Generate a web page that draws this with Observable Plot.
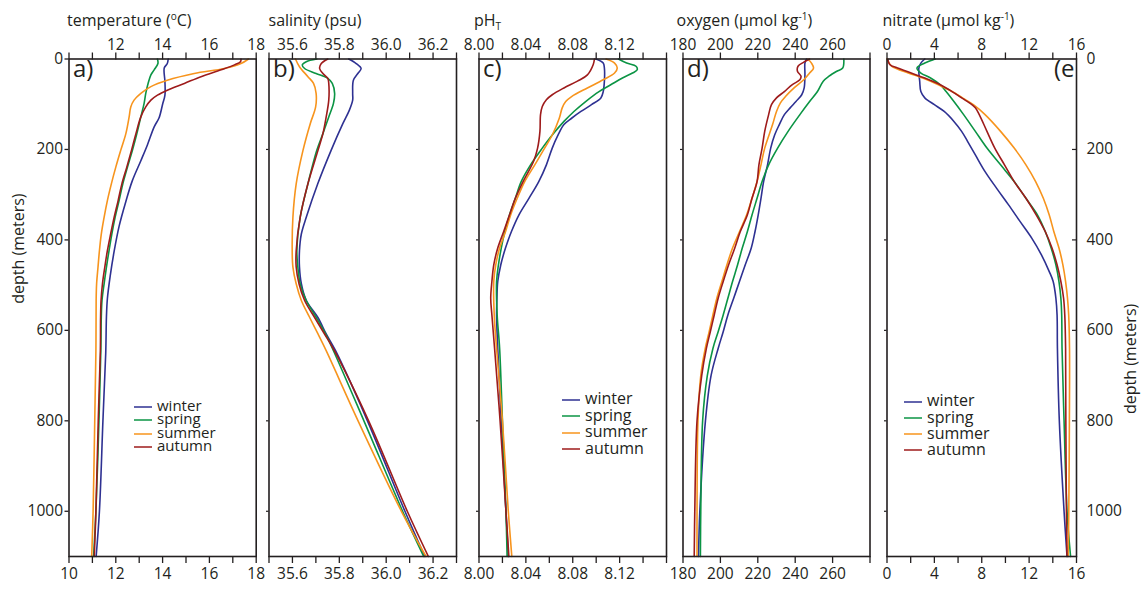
<!DOCTYPE html>
<html><head><meta charset="utf-8">
<script src="https://cdn.jsdelivr.net/npm/d3@7"></script>
<script src="https://cdn.jsdelivr.net/npm/@observablehq/plot@0.6"></script>
<style>
body{margin:0;background:#fff;}
#wrap{position:relative;width:1143px;height:590px;font-family:"Open Sans",sans-serif;color:#231f20;overflow:hidden;}
#wrap > svg{position:absolute;left:0;top:0;overflow:visible;background:transparent;}
.title{position:absolute;font-size:16px;line-height:16px;white-space:nowrap;}
.title sup{font-size:10px;vertical-align:6px;line-height:0;}
.title sub{font-size:10px;vertical-align:-4px;line-height:0;}
.legend{position:absolute;white-space:nowrap;}
.legend .row{position:absolute;left:0;height:0;}
.legend .sw{position:absolute;left:0;top:-2px;}
.legend .tx{position:absolute;left:23px;}
</style></head>
<body><div id="wrap"></div>
<script>
const seasons = ["winter", "spring", "summer", "autumn"];
const seasonColors = ["#2e3192", "#0b9444", "#f7941d", "#9e1b1b"];
const depthTicks = [0, 200, 400, 600, 800, 1000];

// temperature (°C): [depth m, value]
const tempWinter = [[0,14.24],[10,14.2],[20,14.07],[50,14.1],[80,14.1],[100,14.0],[130,13.85],[150,13.64],[190,13.35],[225,13.07],[270,12.7],[315,12.43],[370,12.14],[425,11.93],[480,11.76],[530,11.64],[570,11.6],[650,11.57],[800,11.45],[1000,11.3],[1100,11.16]];
const tempSpring = [[0,13.78],[10,13.8],[24,13.64],[35,13.5],[54,13.38],[76,13.28],[98,13.21],[128,13.07],[165,12.9],[202,12.71],[239,12.5],[276,12.3],[313,12.14],[350,11.97],[387,11.83],[424,11.71],[460,11.6],[497,11.5],[534,11.41],[571,11.38],[645,11.36],[800,11.28],[1000,11.15],[1100,11.05]];
const tempSummer = [[0,17.67],[10,17.35],[21,16.64],[32,15.35],[47,14.2],[61,13.5],[76,13.07],[91,12.78],[106,12.64],[128,12.57],[165,12.43],[202,12.21],[239,12.0],[276,11.81],[313,11.64],[350,11.5],[387,11.38],[424,11.3],[460,11.24],[497,11.18],[534,11.16],[645,11.15],[800,11.1],[1000,11.03],[1100,10.97]];
const tempAutumn = [[0,17.35],[6,17.33],[13,17.07],[24,16.5],[39,15.64],[54,14.93],[69,14.2],[80,13.78],[91,13.5],[106,13.28],[128,13.07],[165,12.86],[202,12.67],[239,12.47],[276,12.26],[313,12.1],[350,11.93],[387,11.78],[424,11.64],[460,11.53],[497,11.43],[534,11.37],[571,11.35],[645,11.34],[800,11.25],[1000,11.15],[1100,11.08]];

// salinity (psu)
const salWinter = [[0,35.84],[10,35.872],[21,35.893],[32,35.879],[47,35.86],[76,35.857],[91,35.857],[113,35.843],[143,35.815],[202,35.765],[276,35.708],[350,35.659],[387,35.638],[424,35.63],[460,35.63],[497,35.638],[534,35.659],[571,35.708],[608,35.744],[645,35.784],[800,35.92],[1000,36.08],[1100,36.165]];
const salSpring = [[0,35.704],[6,35.659],[13,35.642],[21,35.652],[32,35.701],[43,35.751],[54,35.77],[76,35.78],[98,35.775],[128,35.755],[165,35.73],[202,35.704],[276,35.666],[350,35.633],[424,35.619],[460,35.623],[497,35.633],[534,35.659],[571,35.701],[608,35.741],[645,35.775],[800,35.905],[1000,36.07],[1100,36.16]];
const salSummer = [[0,35.613],[17,35.63],[39,35.666],[54,35.69],[76,35.701],[106,35.699],[143,35.676],[202,35.645],[276,35.616],[350,35.602],[424,35.599],[460,35.602],[497,35.616],[534,35.638],[571,35.673],[608,35.709],[645,35.744],[800,35.88],[1000,36.065],[1100,36.17]];
const salAutumn = [[0,35.751],[10,35.723],[21,35.716],[32,35.73],[43,35.751],[54,35.755],[91,35.755],[128,35.744],[165,35.73],[202,35.709],[276,35.666],[350,35.633],[424,35.616],[460,35.616],[497,35.628],[534,35.652],[571,35.694],[608,35.737],[645,35.779],[800,35.925],[1000,36.09],[1100,36.18]];

// pH (total scale)
const phWinter = [[0,8.0998],[9,8.106],[20,8.107],[49,8.107],[72,8.106],[86,8.104],[101,8.096],[116,8.087],[131,8.079],[145,8.0725],[168,8.0675],[197,8.0625],[234,8.0575],[271,8.051],[308,8.0426],[345,8.034],[382,8.0276],[418,8.0226],[455,8.0186],[492,8.016],[529,8.0153],[566,8.015],[640,8.016],[800,8.019],[1000,8.023],[1100,8.025]];
const phSpring = [[0,8.119],[9,8.126],[16,8.134],[24,8.135],[31,8.131],[42,8.1224],[57,8.1124],[72,8.1024],[94,8.091],[116,8.081],[138,8.0725],[168,8.0625],[197,8.054],[234,8.044],[271,8.036],[308,8.031],[345,8.026],[382,8.022],[418,8.019],[455,8.0166],[492,8.015],[566,8.0155],[640,8.0176],[800,8.02],[1000,8.023],[1100,8.024]];
const phSummer = [[0,8.1084],[9,8.1157],[20,8.118],[31,8.1157],[46,8.106],[64,8.0925],[83,8.079],[94,8.074],[108,8.071],[131,8.0685],[168,8.0625],[197,8.056],[234,8.0476],[271,8.039],[308,8.0326],[345,8.027],[382,8.0226],[418,8.0176],[455,8.0143],[492,8.0126],[566,8.013],[640,8.015],[800,8.02],[1000,8.025],[1100,8.028]];
const phAutumn = [[0,8.0985],[12,8.0975],[35,8.0925],[49,8.084],[64,8.0725],[79,8.0625],[90,8.0575],[105,8.054],[123,8.0525],[160,8.052],[197,8.05],[226,8.0466],[271,8.0376],[308,8.031],[345,8.026],[382,8.021],[418,8.016],[455,8.0126],[492,8.011],[529,8.01],[566,8.011],[640,8.0133],[800,8.018],[1000,8.023],[1100,8.0255]];

// oxygen (µmol/kg)
const oxyWinter = [[0,246],[9,245.2],[35,245.2],[64,244.8],[79,243.5],[94,240.4],[108,237.3],[123,234.2],[145,231.5],[168,229],[197,226.9],[234,225.2],[271,223.1],[308,221.7],[345,220.2],[382,218.5],[418,216.5],[455,213.3],[492,210.2],[529,207.1],[566,204],[603,201.5],[640,198.8],[700,195],[800,192],[1000,189],[1100,188.3]];
const oxySpring = [[0,266],[20,265.4],[27,262.3],[38,258.1],[49,255],[72,251.9],[94,247.7],[123,242.5],[160,236.2],[197,230.6],[234,225.8],[271,222.3],[308,219.6],[345,216.9],[382,214.4],[418,211.7],[455,209.2],[492,206.5],[529,204],[566,201.5],[603,198.8],[640,196],[700,193],[800,190.5],[1000,189.5],[1100,189.3]];
const oxySummer = [[0,246.7],[9,248.7],[20,249.8],[31,247.7],[46,244.6],[64,239.4],[83,234.8],[97,232.1],[116,230],[145,227.9],[197,223.7],[234,221.7],[271,219.6],[308,216.9],[345,214],[382,210.2],[418,206.5],[455,203.5],[492,200.8],[529,198.1],[566,196],[603,194],[640,191.9],[700,189.5],[800,188],[1000,187.5],[1100,187.5]];
const oxyAutumn = [[0,247.7],[7,244.6],[16,241.5],[27,241.2],[38,243.1],[46,242.5],[57,238.3],[72,234.2],[86,230],[101,227.3],[123,225.8],[160,223.7],[197,222.3],[234,220.6],[271,219.6],[308,216.9],[345,214.4],[382,210.6],[418,207.7],[455,204.4],[492,201.5],[529,198.8],[566,196.7],[603,194.6],[640,192.5],[700,190],[800,187.5],[1000,186.3],[1100,186]];

// nitrate (µmol/kg)
const no3Winter = [[0,3.19],[9,2.86],[20,2.69],[49,2.76],[72,2.86],[86,3.19],[101,4.0],[116,4.83],[138,5.65],[160,6.3],[182,6.8],[212,7.46],[249,8.28],[286,9.26],[322,10.25],[359,11.23],[396,12.22],[433,13.04],[470,13.7],[492,14.03],[529,14.26],[566,14.36],[640,14.39],[800,14.55],[1000,14.95],[1100,15.2]];
const no3Spring = [[0,4.07],[9,3.19],[20,2.53],[31,2.86],[42,3.68],[57,4.5],[72,4.99],[94,5.65],[123,6.47],[160,7.46],[197,8.44],[234,9.59],[271,10.74],[308,11.73],[345,12.71],[382,13.37],[418,13.86],[455,14.26],[492,14.52],[529,14.68],[566,14.75],[640,14.78],[800,14.95],[1000,15.2],[1100,15.5]];
const no3Summer = [[0,0],[16,0.39],[27,1.38],[42,3.02],[57,4.34],[72,5.49],[86,6.37],[101,7.29],[123,8.28],[160,9.59],[197,10.74],[234,11.73],[271,12.55],[308,13.2],[345,13.7],[382,14.09],[418,14.52],[455,14.85],[492,15.08],[529,15.24],[566,15.34],[640,15.41],[800,15.4],[1000,15.35],[1100,15.3]];
const no3Autumn = [[0,0.07],[12,0.23],[20,0.89],[31,2.04],[42,3.19],[57,4.5],[72,5.49],[86,6.3],[97,6.96],[108,7.46],[123,7.79],[160,8.44],[197,9.1],[234,9.92],[271,10.74],[308,11.73],[345,12.61],[382,13.37],[418,13.93],[455,14.36],[492,14.68],[529,14.91],[566,15.01],[640,15.08],[800,15.1],[1000,15.15],[1100,15.2]];

// axis ticks & labels
const tempTicks = [10,11,12,13,14,15,16,17,18], tempTop = [12,14,16,18], tempBottom = [10,12,14,16,18];
const salTicks = [35.5,35.6,35.7,35.8,35.9,36.0,36.1,36.2,36.3], salTop = [35.6,35.8,36.0,36.2], salBottom = [35.6,35.8,36.0,36.2];
const phTicks = [8.00,8.02,8.04,8.06,8.08,8.10,8.12,8.14,8.16], phTop = [8.00,8.04,8.08,8.12], phBottom = [8.00,8.04,8.08,8.12];
const oxyTicks = [180,200,220,240,260,280], oxyTop = [180,200,220,240,260], oxyBottom = [180,200,220,240,260];
const no3Ticks = [0,2,4,6,8,10,12,14,16], no3Top = [0,4,8,12,16], no3Bottom = [0,4,8,12,16];

const W = 1143, H = 590, TOP = 58.5, BOTTOM = 556;
const panels = [
  {letter:"a)", series:[tempWinter,tempSpring,tempSummer,tempAutumn], domain:[10,18], ticks:tempTicks, top:tempTop, bottom:tempBottom, dec:0, x0:68.5, x1:255.7,
   title:'temperature (<sup>o</sup>C)', tx:67, legend:{x:134, y:407, dy:13.4, fs:15}},
  {letter:"b)", series:[salWinter,salSpring,salSummer,salAutumn], domain:[35.5,36.3], ticks:salTicks, top:salTop, bottom:salBottom, dec:1, x0:268.5, x1:456,
   title:'salinity (psu)', tx:268.5},
  {letter:"c)", series:[phWinter,phSpring,phSummer,phAutumn], domain:[8.0,8.16], ticks:phTicks, top:phTop, bottom:phBottom, dec:2, x0:478.5, x1:666,
   title:'pH<sub>T</sub>', tx:474, legend:{x:562, y:400, dy:16.4, fs:16}},
  {letter:"d)", series:[oxyWinter,oxySpring,oxySummer,oxyAutumn], domain:[180,280], ticks:oxyTicks, top:oxyTop, bottom:oxyBottom, dec:0, x0:682.5, x1:869.5,
   title:'oxygen (µmol kg<sup>-1</sup>)', tx:676.5},
  {letter:"(e", series:[no3Winter,no3Spring,no3Summer,no3Autumn], domain:[0,16], ticks:no3Ticks, top:no3Top, bottom:no3Bottom, dec:0, x0:886.5, x1:1076,
   title:'nitrate (µmol kg<sup>-1</sup>)', tx:882.5, legend:{x:904, y:402, dy:16.1, fs:16}}
];

const wrap = document.getElementById("wrap");
const has = (arr, v) => arr.some(a => Math.abs(a - v) < 1e-9);

panels.forEach((p, i) => {
  const rows = [];
  p.series.forEach((s, k) => s.forEach(([d, v]) => rows.push({season: seasons[k], depth: d, value: v})));
  const fmt = v => v.toFixed(p.dec);
  const marks = [
    Plot.axisX({anchor:"top", ticks:p.ticks, tickFormat: v => has(p.top, v) ? fmt(v) : "", tickSize:7, tickPadding:2, fontSize:15.5, strokeWidth:1.3, label:null}),
    Plot.axisX({anchor:"bottom", ticks:p.ticks, tickFormat: v => has(p.bottom, v) ? fmt(v) : "", tickSize:7, tickPadding:4, fontSize:15.5, strokeWidth:1.3, label:null}),
    Plot.line(rows, {x:"value", y:"depth", z:"season", stroke:"season", curve:"catmull-rom", strokeWidth:1.6}),
    Plot.frame({stroke:"#231f20", strokeWidth:1.6}),
    Plot.text([p.letter], {frameAnchor: i === 4 ? "top-right" : "top-left", textAnchor: i === 4 ? "end" : "start", lineAnchor:"top", dx: i === 4 ? -2 : 4, dy: 1, fontSize:24})
  ];
  if (i === 0) {
    marks.push(Plot.axisY({anchor:"left", ticks:depthTicks, tickFormat: d => String(d), tickSize:4, tickPadding:2, fontSize:15.5, strokeWidth:1.3, label:null}));
    marks.push(Plot.text(["depth (meters)"], {frameAnchor:"left", rotate:-90, dx:-50, dy:-4, fontSize:16}));
  } else {
    marks.push(Plot.axisY({anchor:"left", ticks:depthTicks.slice(1), tickSize:2.5, tickFormat:() => "", strokeWidth:1.2, label:null}));
  }
  if (i === 4) {
    marks.push(Plot.axisY({anchor:"right", ticks:depthTicks, tickFormat: d => String(d), tickSize:0, tickPadding:10, fontSize:15.5, label:null}));
    marks.push(Plot.axisY({anchor:"right", ticks:depthTicks.slice(1), tickSize:-5, tickFormat:() => "", strokeWidth:1.2, label:null}));
    marks.push(Plot.text(["depth (meters)"], {frameAnchor:"right", rotate:-90, dx:54, dy:-4, fontSize:16}));
  }
  const chart = Plot.plot({
    width: W, height: H,
    marginLeft: p.x0, marginRight: W - p.x1, marginTop: TOP, marginBottom: H - BOTTOM,
    style: {background:"transparent", color:"#231f20", fontFamily:"'Open Sans', sans-serif", overflow:"visible"},
    x: {domain: p.domain},
    y: {domain: [0, 1100], reverse: true},
    color: {domain: seasons, range: seasonColors},
    marks
  });
  wrap.appendChild(chart);

  const t = document.createElement("div");
  t.className = "title";
  t.style.left = p.tx + "px"; t.style.top = "12px";
  t.innerHTML = p.title;
  wrap.appendChild(t);

  if (p.legend) {
    const lg = document.createElement("div");
    lg.className = "legend";
    lg.style.left = p.legend.x + "px"; lg.style.top = p.legend.y + "px";
    lg.style.fontSize = p.legend.fs + "px";
    seasons.forEach((s, k) => {
      const r = document.createElement("div");
      r.className = "row";
      r.style.top = (k * p.legend.dy) + "px";
      const lh = p.legend.dy;
      r.innerHTML = `<svg class="sw" width="18" height="4"><line x1="0" x2="18" y1="2" y2="2" stroke="${seasonColors[k]}" stroke-width="1.5"/></svg>` +
        `<span class="tx" style="line-height:${lh}px;top:${-lh / 2 - 1.5}px">${s}</span>`;
      lg.appendChild(r);
    });
    wrap.appendChild(lg);
  }
});
</script></body></html>
